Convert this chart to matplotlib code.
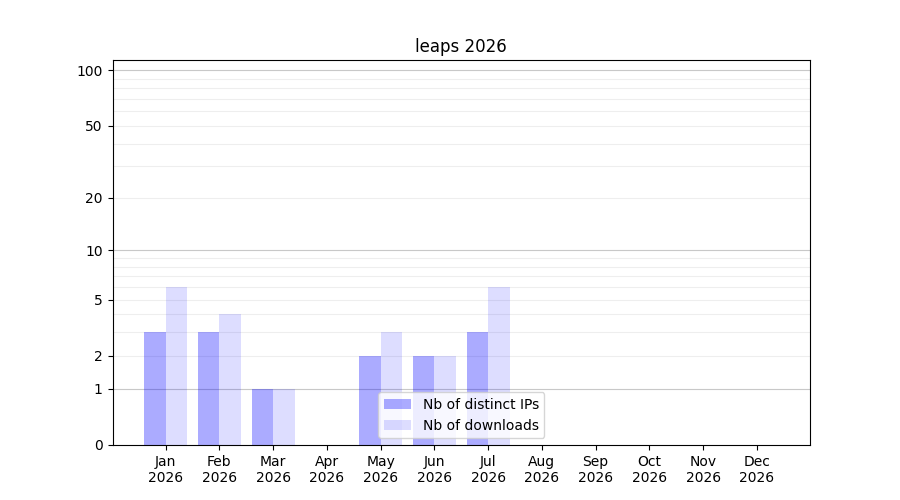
import matplotlib
matplotlib.use("Agg")
import matplotlib.pyplot as plt
import numpy as np

# données
months = ["Jan", "Feb", "Mar", "Apr", "May", "Jun",
          "Jul", "Aug", "Sep", "Oct", "Nov", "Dec"]
year = "2026"
distinct_ips = [3, 3, 1, 0, 2, 2, 3, 0, 0, 0, 0, 0]
downloads = [6, 4, 1, 0, 3, 2, 6, 0, 0, 0, 0, 0]
y_ticks = [0, 1, 2, 5, 10, 20, 50, 100]
major_grid = [1, 10, 100]
minor_grid = [2, 3, 4, 5, 6, 7, 8, 9, 20, 30, 40, 50, 60, 70, 80, 90]


def fwd(y):
    return np.log10(1 + np.maximum(y, 0))


def inv(y):
    return 10 ** y - 1


fig, ax = plt.subplots(figsize=(9, 5), dpi=100)
ax.set_yscale("function", functions=(fwd, inv))

x = np.arange(len(months))
width = 0.4
ax.bar(x - width, distinct_ips, width, align="edge", color="blue", alpha=0.33,
       label="Nb of distinct IPs")
ax.bar(x, downloads, width, align="edge", color="blue", alpha=0.133,
       label="Nb of downloads")

# grille
for v in minor_grid:
    ax.axhline(v, color="#eeeeee", linewidth=0.8, zorder=0)
for v in major_grid:
    ax.axhline(v, color="#c8c8c8", linewidth=0.8, zorder=0)

ax.set_ylim(0, 113.7)
ax.set_yticks(y_ticks)
ax.set_yticklabels([str(v) for v in y_ticks])
ax.minorticks_off()
ax.set_xticks(x)
ax.set_xticklabels([f"{m}\n{year}" for m in months])
ax.set_title("leaps 2026")
ax.legend(loc="lower center")

plt.savefig("out.png", dpi=100)
